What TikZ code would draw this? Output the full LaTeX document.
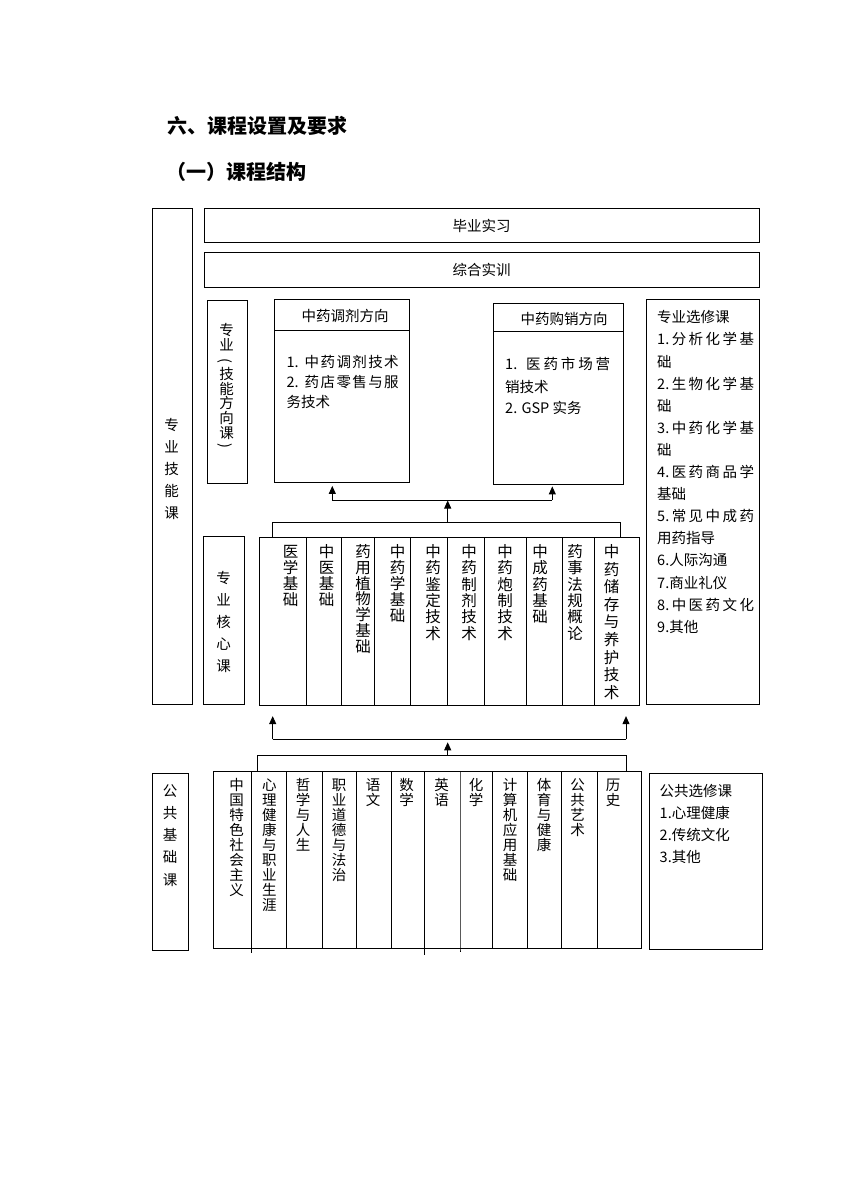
\documentclass[tikz,border=0pt]{standalone}
\usepackage{fontspec}
\setmainfont{Noto Sans CJK SC}
\usetikzlibrary{arrows.meta}
\newcommand\fA{\fontsize{14.5}{17}\selectfont}
\newcommand\fB{\fontsize{15.5}{17}\selectfont}
\newcommand\fT{\fontsize{20}{24}\selectfont\bfseries}
\newcommand\jf{\hfil}
\newcommand\vcol[6]{\foreach \chr [count=\i] in {#6} {\node[#5] (#1-\i) at (#2,{#3+(\i-1)*#4}) {\chr};}}
\begin{document}
\begin{tikzpicture}[x=1pt,y=-1pt,
  box/.style={draw, line width=1.1pt, inner sep=0pt, anchor=north west},
  txt/.style={inner sep=0pt, font=\fA, text height=12.8pt, text depth=1.7pt},
  ctxt/.style={inner sep=0pt, font=\fB, text height=13.6pt, text depth=1.9pt},
  ttl/.style={inner sep=0pt, font=\fT, text height=17.6pt, text depth=2.4pt, anchor=west},
  ln/.style={line width=0.9pt},
  arr/.style={line width=0.9pt, -{Triangle[width=7pt,length=8pt]}}]
\fill[white] (0,0) rectangle (848,1200);
\useasboundingbox (0,0) rectangle (848,1200);

% titles
\node[ttl] (title) at (167,126) {六、课程设置及要求};
\node[ttl] (subtitle) at (166,171.7) {（一）课程结构};

% boxes
\node[box, minimum width=40pt, minimum height=496pt] (skill) at (151.5,208) {};
\node[box, minimum width=555pt, minimum height=34pt, font=\fA, text height=12.8pt, text depth=1.7pt] (intern) at (203.5,208.3) {毕业实习};
\node[box, minimum width=555pt, minimum height=35.6pt, font=\fA, text height=12.8pt, text depth=1.7pt] (train) at (203.5,251.7) {综合实训};
\node[box, minimum width=39.4pt, minimum height=183pt] (dirlab) at (207.3,300.3) {};
\node[box, minimum width=135pt, minimum height=183pt] (dirA) at (274.3,299.3) {};
\node[box, minimum width=129.4pt, minimum height=181.8pt] (dirB) at (493.3,302.5) {};
\node[box, minimum width=112.8pt, minimum height=404.7pt] (elec) at (645.7,299.3) {};
\node[box, minimum width=40.4pt, minimum height=168pt] (corelab) at (203.3,536) {};
\node[box, minimum width=380pt, minimum height=168pt] (core) at (259.3,537) {};
\node[box, minimum width=36.6pt, minimum height=177.3pt] (publab) at (151.7,772.7) {};
\node[box, minimum width=427.4pt, minimum height=177.3pt] (pub) at (213.3,771) {};
\node[box, minimum width=112.4pt, minimum height=176.6pt] (pubelec) at (649.3,772.7) {};

% direction boxes
\draw[ln] (dirA.west |- 0,330.7) -- (dirA.east |- 0,330.7);
\draw[ln] (dirB.west |- 0,331.7) -- (dirB.east |- 0,331.7);
\node[txt] (dirAh) at (345,315.7) {中药调剂方向};
\node[txt] (dirBh) at (564,319.3) {中药购销方向};
\node[txt, anchor=west] (a1n) at (286.3,361.7) {1.};
\node[txt, anchor=west] (a1) at (304.5,361.7) {\hbox to 94pt{中\jf 药\jf 调\jf 剂\jf 技\jf 术}};
\node[txt, anchor=west] (a2n) at (286.3,381.7) {2.};
\node[txt, anchor=west] (a2) at (304.5,381.7) {\hbox to 94pt{药\jf 店\jf 零\jf 售\jf 与\jf 服}};
\node[txt, anchor=west] (a3) at (286.3,401.5) {务技术};
\node[txt, anchor=west] (b1n) at (505,364) {1.};
\node[txt, anchor=west] (b1) at (526,364) {\hbox to 84pt{医\jf 药\jf 市\jf 场\jf 营}};
\node[txt, anchor=west] (b2) at (505,386.7) {销技术};
\node[txt, anchor=west] (b3) at (505,408.3) {2. GSP 实务};

% elective list
\node[txt, anchor=west] (e0) at (657,317.3) {专业选修课};
\node[txt, anchor=west] (e1) at (657,339.4) {\hbox to 97pt{1.\jf 分\jf 析\jf 化\jf 学\jf 基}};
\node[txt, anchor=west] (e2) at (657,361.5) {础};
\node[txt, anchor=west] (e3) at (657,383.6) {\hbox to 97pt{2.\jf 生\jf 物\jf 化\jf 学\jf 基}};
\node[txt, anchor=west] (e4) at (657,405.7) {础};
\node[txt, anchor=west] (e5) at (657,427.8) {\hbox to 97pt{3.\jf 中\jf 药\jf 化\jf 学\jf 基}};
\node[txt, anchor=west] (e6) at (657,449.9) {础};
\node[txt, anchor=west] (e7) at (657,472) {\hbox to 97pt{4.\jf 医\jf 药\jf 商\jf 品\jf 学}};
\node[txt, anchor=west] (e8) at (657,494.1) {基础};
\node[txt, anchor=west] (e9) at (657,516.2) {\hbox to 97pt{5.\jf 常\jf 见\jf 中\jf 成\jf 药}};
\node[txt, anchor=west] (e10) at (657,538.3) {用药指导};
\node[txt, anchor=west] (e11) at (657,560.4) {6.人际沟通};
\node[txt, anchor=west] (e12) at (657,582.5) {7.商业礼仪};
\node[txt, anchor=west] (e13) at (657,604.6) {\hbox to 97pt{8.\jf 中\jf 医\jf 药\jf 文\jf 化}};
\node[txt, anchor=west] (e14) at (657,626.7) {9.其他};

% public elective list
\node[txt, anchor=west] (q0) at (659.5,790.7) {公共选修课};
\node[txt, anchor=west] (q1) at (659.5,812.7) {1.心理健康};
\node[txt, anchor=west] (q2) at (659.5,835) {2.传统文化};
\node[txt, anchor=west] (q3) at (659.5,856.7) {3.其他};

% vertical labels
\vcol{sk}{171.5}{425}{22.1}{txt}{专,业,技,能,课}
\vcol{cl}{223.5}{577.7}{22}{txt}{专,业,核,心,课}
\vcol{pl}{170}{790.7}{22.2}{txt}{公,共,基,础,课}
\node[txt] (dl1) at (226.5,330) {专};
\node[txt] (dl2) at (226.5,344.5) {业};
\node[txt, rotate=-90] (dl3) at (226.5,361) {(};
\node[txt] (dl4) at (226.5,374) {技};
\node[txt] (dl5) at (226.5,388.5) {能};
\node[txt] (dl6) at (226.5,403) {方};
\node[txt] (dl7) at (226.5,418) {向};
\node[txt] (dl8) at (226.5,433) {课};
\node[txt, rotate=-90] (dl9) at (226.5,446) {)};

% core courses
\foreach \x in {306,341.7,374,410,447.7,484,526,562,594}
  \draw[ln] (\x,0 |- core.north) -- (\x,0 |- core.south);
\vcol{c1}{290.7}{551.7}{16}{ctxt}{医,学,基,础}
\vcol{c2}{326.7}{551.7}{16}{ctxt}{中,医,基,础}
\vcol{c3}{363}{551.7}{15.8}{ctxt}{药,用,植,物,学,基,础}
\vcol{c4}{397.7}{551.7}{16}{ctxt}{中,药,学,基,础}
\vcol{c5}{433}{551.7}{16.3}{ctxt}{中,药,鉴,定,技,术}
\vcol{c6}{469}{551.7}{16.3}{ctxt}{中,药,制,剂,技,术}
\vcol{c7}{505}{551.7}{16.3}{ctxt}{中,药,炮,制,技,术}
\vcol{c8}{540}{551.7}{16.3}{ctxt}{中,成,药,基,础}
\vcol{c9}{575}{551.7}{16.3}{ctxt}{药,事,法,规,概,论}
\vcol{c10}{611.7}{551.7}{17.6}{ctxt}{中,药,储,存,与,养,护,技,术}

% public courses
\foreach \x in {286.7,322.3,356.7,391,492.7,527.7,561,597.7}
  \draw[ln] (\x,0 |- pub.north) -- (\x,0 |- pub.south);
\foreach \x/\e in {251.7/4,424.3/6,460/3}
  \draw[ln] (\x,0 |- pub.north) -- (\x,0 |- pub.south) -- ++(0,\e);
\vcol{p1}{236.7}{785}{15}{txt}{中,国,特,色,社,会,主,义}
\vcol{p2}{269.3}{785}{15}{txt}{心,理,健,康,与,职,业,生,涯}
\vcol{p3}{303}{785}{15}{txt}{哲,学,与,人,生}
\vcol{p4}{339}{785}{15}{txt}{职,业,道,德,与,法,治}
\vcol{p5}{373}{785}{15}{txt}{语,文}
\vcol{p6}{406.7}{785}{15}{txt}{数,学}
\vcol{p7}{441.7}{785}{15}{txt}{英,语}
\vcol{p8}{476}{785}{15}{txt}{化,学}
\vcol{p9}{510}{785}{15}{txt}{计,算,机,应,用,基,础}
\vcol{p10}{544}{785}{15}{txt}{体,育,与,健,康}
\vcol{p11}{577.7}{785}{15}{txt}{公,共,艺,术}
\vcol{p12}{613}{785}{15}{txt}{历,史}

% connectors upper
\coordinate (cbL) at (272.7,522.7);
\coordinate (cbR) at (620.7,522.7);
\coordinate (cbM) at (447.7,522.7);
\coordinate (busL) at (332.3,500);
\coordinate (busR) at (552.3,500);
\coordinate (busM) at (447.7,500);
\draw[ln] (core.north -| cbL) -- (cbL) -- (cbR) -- (core.north -| cbR);
\draw[arr, shorten >=0.5pt] (cbM) -- (busM);
\draw[ln] (busL) -- (busR);
\draw[arr, shorten >=2.5pt] (busL) -- (dirA.south -| busL);
\draw[arr, shorten >=1pt] (busR) -- (dirB.south -| busR);

% connectors lower
\coordinate (lbL) at (272.7,739.3);
\coordinate (lbR) at (626,739.3);
\coordinate (lbM) at (447.7,739.3);
\coordinate (pbL) at (257.5,755);
\coordinate (pbR) at (626,755);
\coordinate (pbM) at (447.7,755);
\draw[ln] (lbL) -- (lbR);
\draw[arr, shorten >=10pt] (lbL) -- (core.south -| lbL);
\draw[arr, shorten >=10pt] (lbR) -- (core.south -| lbR);
\draw[arr, shorten >=3pt] (pbM) -- (lbM);
\draw[ln] (pub.north -| pbL) -- (pbL) -- (pbR) -- (pub.north -| pbR);
\end{tikzpicture}
\end{document}
